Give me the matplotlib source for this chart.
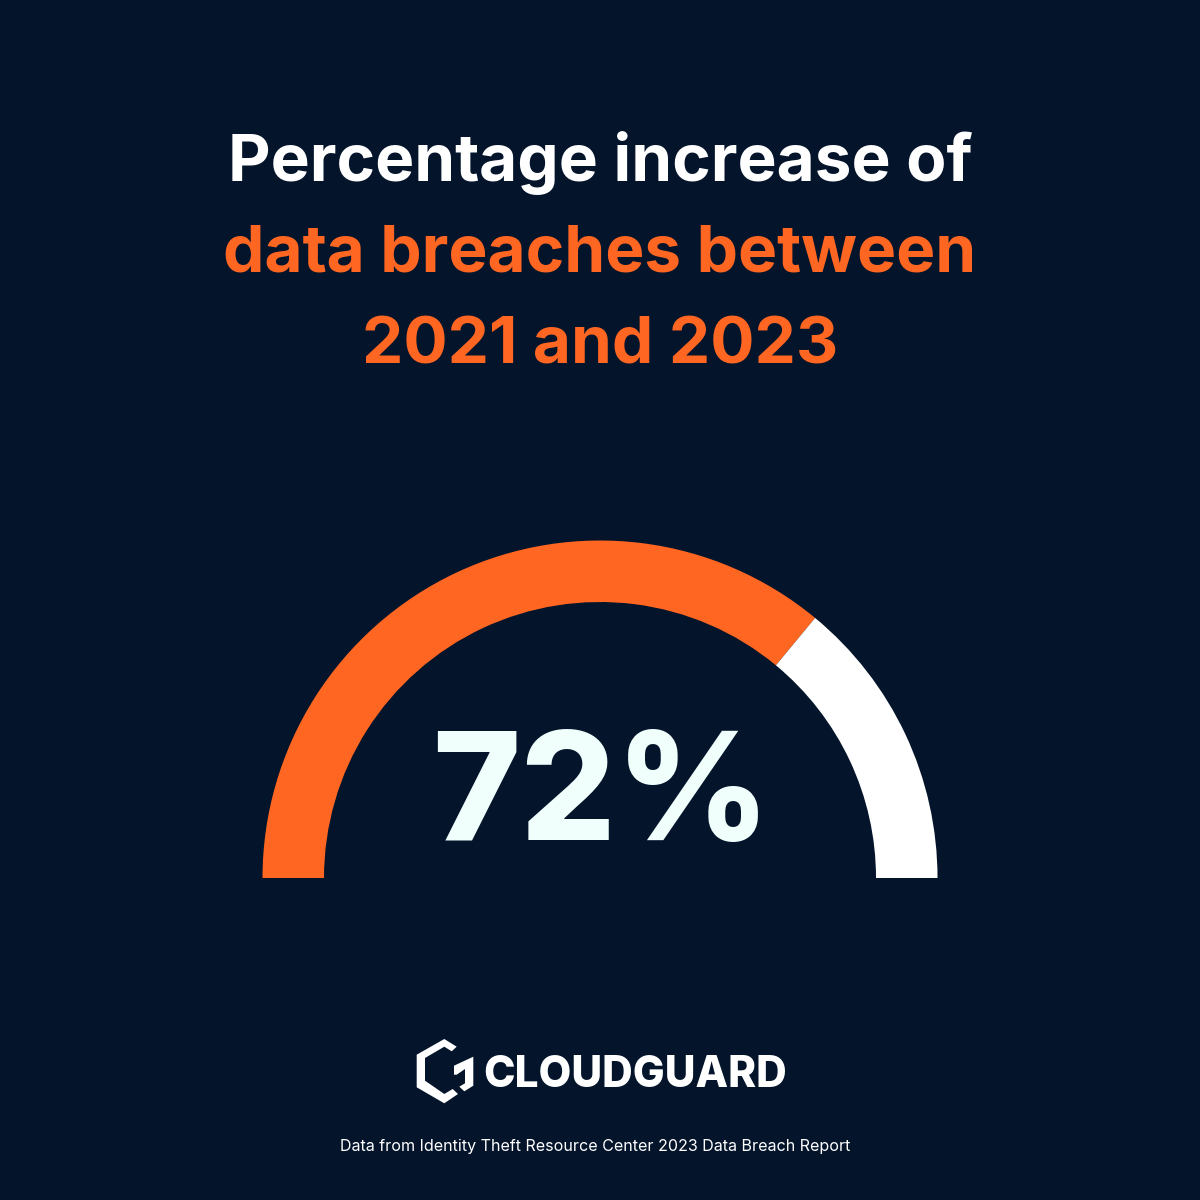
import matplotlib
matplotlib.use("Agg")
import matplotlib.pyplot as plt
from matplotlib.patches import Polygon

BG = "#03142B"
ORANGE = "#FF6622"
WHITE = "#FFFFFF"
NUM = "#F0FFFC"

title_lines = ["Percentage increase of", "data breaches between", "2021 and 2023"]
title_colors = [WHITE, ORANGE, ORANGE]
slice_values = [72, 28]
slice_colors = [ORANGE, WHITE]
center_label = "72%"
brand = "CLOUDGUARD"
source = "Data from Identity Theft Resource Center 2023 Data Breach Report"

fig = plt.figure(figsize=(12, 12), dpi=100, facecolor=BG)
bg = fig.add_axes([0, 0, 1, 1])
bg.set_xlim(0, 1200); bg.set_ylim(1200, 0); bg.axis("off")

# half-donut gauge: the hidden lower half equals the sum of the visible slices
ax = fig.add_axes([(600 - 337.5) / 1200, (1200 - 878 - 337.5) / 1200, 675 / 1200, 675 / 1200])
ax.pie(slice_values + [sum(slice_values)], colors=slice_colors + ["none"], startangle=180,
       counterclock=False, radius=1.0, wedgeprops=dict(width=61.5 / 337.5, linewidth=0))
ax.set_xlim(-1, 1); ax.set_ylim(-1, 1); ax.set_aspect("equal")

for text, col, y in zip(title_lines, title_colors, [181, 272, 363]):
    bg.text(600, y, text, color=col, fontsize=47.3, fontweight="bold", family="Inter",
            ha="center", va="baseline")
bg.text(601, 839.5, center_label, color=NUM, fontsize=108, fontweight=800, family="Inter",
        ha="center", va="baseline")

# logo mark
logo_c = [(444.3, 1039), (456.7, 1046.7), (451.7, 1051.3), (444.3, 1046.7), (425, 1058), (425, 1080.7),
          (444.3, 1094), (452.7, 1089), (458, 1094), (444.3, 1103.3), (416.7, 1087.3), (416.7, 1054.7)]
logo_g = [(473.3, 1056.7), (473.3, 1085.7), (464.3, 1091.3), (459.3, 1086.7), (465, 1083.3), (465, 1069),
          (456.7, 1074.7), (454, 1074.7), (454, 1065.7)]
bg.add_patch(Polygon(logo_c, closed=True, fc=WHITE, ec="none"))
bg.add_patch(Polygon(logo_g, closed=True, fc=WHITE, ec="none"))
bg.text(635, 1087, brand, color=WHITE, fontsize=30.5, fontweight=800, family="Inter",
        ha="center", va="baseline")
bg.text(595.5, 1151, source, color=WHITE, fontsize=11.57, family="Inter", ha="center", va="baseline")

fig.savefig("out.png", dpi=100, facecolor=BG)
